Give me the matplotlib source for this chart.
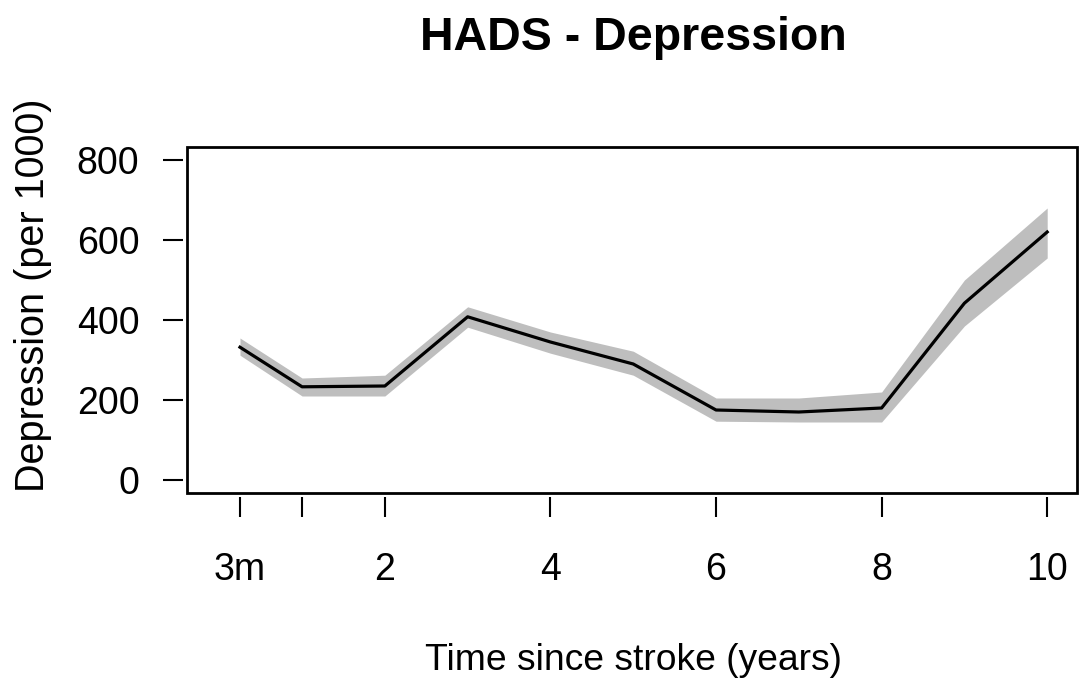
import matplotlib
matplotlib.use("Agg")
import matplotlib.pyplot as plt
from matplotlib.patches import Rectangle

# ---- data ----
years = [0.25, 1, 2, 3, 4, 5, 6, 7, 8, 9, 10]
estimate = [332, 233, 235, 408, 345, 290, 175, 170, 180, 442, 620]
lower = [312, 210, 210, 382, 317, 262, 147, 145, 145, 385, 555]
upper = [355, 255, 262, 433, 370, 322, 205, 205, 220, 500, 680]

x_ticks = [0.25, 1, 2, 4, 6, 8, 10]
x_tick_labels = ["3m", "", "2", "4", "6", "8", "10"]
y_ticks = [0, 200, 400, 600, 800]
y_tick_labels = ["0", "200", "400", "600", "800"]

title = "HADS - Depression"
xlabel = "Time since stroke (years)"
ylabel = "Depression (per 1000)"

plt.rcParams["font.family"] = ["Liberation Sans", "DejaVu Sans"]

W, H, DPI = 1079, 681, 100
fig = plt.figure(figsize=(W / DPI, H / DPI), dpi=DPI)
fig.patch.set_facecolor("white")

left_px, right_px, top_px, bot_px = 187, 1077, 147, 493
ax = fig.add_axes([left_px / W, 1 - bot_px / H,
                   (right_px - left_px) / W, (bot_px - top_px) / H])

ax.fill_between(years, lower, upper, color="#bebebe", linewidth=0, zorder=1)
ax.plot(years, estimate, color="black", linewidth=2.3, zorder=2)

ax.set_xlim(-0.39, 10.36)
ax.set_ylim(-32.5, 832.5)

# R-style: box drawn separately, axes with ticks slightly offset
for s in ["top", "right", "bottom", "left"]:
    ax.spines[s].set_visible(False)
ax.spines["bottom"].set_position(("outward", 2.9))
ax.spines["left"].set_position(("outward", 2.9))
ax.add_patch(Rectangle((0, 0), 1, 1, transform=ax.transAxes, fill=False,
                       edgecolor="black", linewidth=2.0, clip_on=False, zorder=5))

ax.set_xticks(x_ticks)
ax.set_xticklabels(x_tick_labels)
ax.set_yticks(y_ticks)
ax.set_yticklabels(y_tick_labels)
ax.tick_params(axis="x", direction="out", length=14.4, width=1.5, pad=25,
               labelsize=27, colors="black")
ax.tick_params(axis="y", direction="out", length=14.4, width=1.5, pad=17,
               labelsize=27, colors="black")

ax.set_xlabel(xlabel, fontsize=26.8)
ax.xaxis.set_label_coords((633 - left_px) / (right_px - left_px),
                          (H - 660 - (H - bot_px)) / (bot_px - top_px))
ax.xaxis.label.set_va("center")
ax.set_ylabel(ylabel, fontsize=28.5)
ax.yaxis.set_label_coords((33 - left_px) / (right_px - left_px),
                          (H - 295 - (H - bot_px)) / (bot_px - top_px))
ax.yaxis.label.set_va("center")

fig.text(633 / W, 1 - 50 / H, title, ha="center", va="baseline",
         fontsize=33.5, fontweight="bold")

fig.savefig("out.png", dpi=DPI, facecolor="white")
